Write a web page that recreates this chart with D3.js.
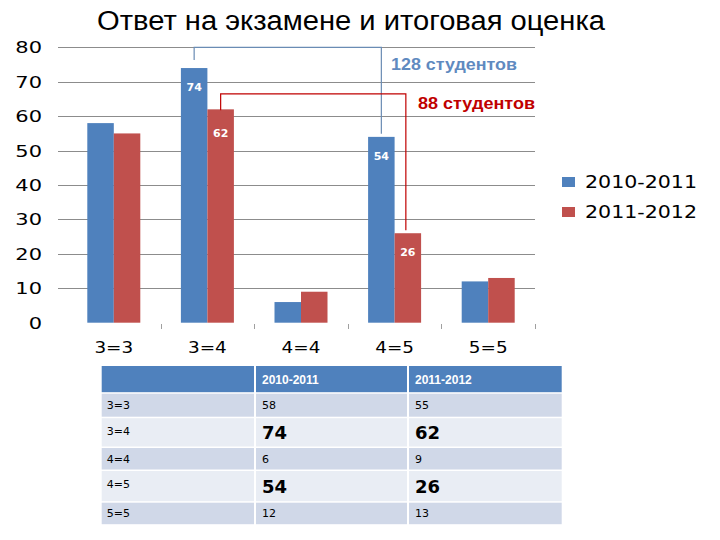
<!DOCTYPE html>
<html><head><meta charset="utf-8">
<script src="https://cdn.jsdelivr.net/npm/d3@7"></script>
<style>html,body{margin:0;padding:0;background:#fff;}svg{display:block;}</style>
</head><body>
<svg id="c" width="720" height="540"></svg>
<script>
const title = "Ответ на экзамене и итоговая оценка";
const categories = ["3=3", "3=4", "4=4", "4=5", "5=5"];
const seriesNames = ["2010-2011", "2011-2012"];
const values2010 = [58, 74, 6, 54, 12];
const values2011 = [55, 62, 9, 26, 13];
const yTicks = [0, 10, 20, 30, 40, 50, 60, 70, 80];
const labeledBars = [{s: 0, c: "3=4"}, {s: 1, c: "3=4"}, {s: 0, c: "4=5"}, {s: 1, c: "4=5"}];
const annotations = [
  {text: "128 студентов", s: 0, from: "3=4", to: "4=5", level: 80},
  {text: "88 студентов", s: 1, from: "3=4", to: "4=5", level: 66.5}
];
const boldRows = ["3=4", "4=5"];

const seriesValues = [values2010, values2011];
const colors = ["#4F81BD", "#C0504D"];
const annColors = ["#5F8AC0", "#C00000"];
const annLineColors = ["#6A8CB4", "#C00000"];

const svg = d3.select("#c");

// Title
svg.append("text").attr("x", 351).attr("y", 30).attr("text-anchor", "middle")
  .attr("font-family", "Liberation Sans, Arial, sans-serif").attr("font-size", 27)
  .attr("textLength", 508).attr("lengthAdjust", "spacingAndGlyphs")
  .attr("fill", "#000").text(title);

const x0 = d3.scaleBand().domain(categories).range([67, 535]).padding(0);
const x1 = d3.scaleBand().domain([0, 1]).range([20.3, 73.3]);
const y = d3.scaleLinear().domain([0, 80]).range([322.7, 47.4]);

// gridlines
svg.append("g").selectAll("line").data(yTicks.filter(t => t > 0)).join("line")
  .attr("x1", 58).attr("x2", 535).attr("y1", d => Math.round(y(d)) + 0.5).attr("y2", d => Math.round(y(d)) + 0.5)
  .attr("stroke", "#8C8C8C").attr("stroke-width", 1);

// y tick labels
svg.append("g").selectAll("text").data(yTicks).join("text")
  .attr("transform", d => `translate(42,${y(d) + 6}) scale(1.4,1)`)
  .attr("text-anchor", "end").attr("font-family", "DejaVu Sans, sans-serif").attr("font-size", 15)
  .attr("fill", "#000").text(d => d);

// category tick marks (between categories)
svg.append("g").selectAll("line").data(categories).join("line")
  .attr("x1", d => Math.round(x0(d) + x0.bandwidth()) + 0.5)
  .attr("x2", d => Math.round(x0(d) + x0.bandwidth()) + 0.5)
  .attr("y1", 324).attr("y2", 329).attr("stroke", "#A0A0A0");

// bars
const groups = svg.append("g").selectAll("g").data(categories).join("g")
  .attr("transform", d => `translate(${x0(d)},0)`);
groups.selectAll("rect").data((c, ci) => seriesValues.map((v, s) => ({s, v: v[ci], c}))).join("rect")
  .attr("x", d => x1(d.s)).attr("width", x1.bandwidth())
  .attr("y", d => y(d.v)).attr("height", d => y(0) - y(d.v))
  .attr("fill", d => colors[d.s]);

// data labels
svg.append("g").selectAll("text").data(labeledBars).join("text")
  .attr("x", d => x0(d.c) + x1(d.s) + x1.bandwidth() / 2)
  .attr("y", d => y(seriesValues[d.s][categories.indexOf(d.c)]) + (d.s === 1 && d.c === "3=4" ? 28 : 23))
  .attr("text-anchor", "middle").attr("font-family", "DejaVu Sans, sans-serif")
  .attr("font-weight", "bold").attr("font-size", 11).attr("fill", "#fff")
  .text(d => seriesValues[d.s][categories.indexOf(d.c)]);

// annotation brackets
annotations.forEach(a => {
  const xa = x0(a.from) + x1(a.s) + x1.bandwidth() / 2;
  const xb = x0(a.to) + x1(a.s) + x1.bandwidth() / 2 - (a.s === 1 ? 2 : 0);
  const va = seriesValues[a.s][categories.indexOf(a.from)];
  const vb = seriesValues[a.s][categories.indexOf(a.to)];
  const ly = y(a.level);
  const path = d3.path();
  path.moveTo(xa, y(va) - (a.s === 0 ? 8 : -1));
  path.lineTo(xa, ly);
  path.lineTo(xb, ly);
  path.lineTo(xb, y(vb) - 3);
  svg.append("path").attr("d", path.toString()).attr("fill", "none")
    .attr("stroke", annLineColors[a.s]).attr("stroke-width", 1.2);
});
svg.append("text").attr("x", 391).attr("y", 70)
  .attr("font-family", "Liberation Sans, Arial, sans-serif").attr("font-weight", "bold").attr("font-size", 17)
  .attr("textLength", 126).attr("lengthAdjust", "spacingAndGlyphs")
  .attr("fill", annColors[0]).text(annotations[0].text);
svg.append("text").attr("x", 418).attr("y", 109)
  .attr("font-family", "Liberation Sans, Arial, sans-serif").attr("font-weight", "bold").attr("font-size", 17)
  .attr("textLength", 117).attr("lengthAdjust", "spacingAndGlyphs")
  .attr("fill", annColors[1]).text(annotations[1].text);

// category labels
svg.append("g").selectAll("text").data(categories).join("text")
  .attr("transform", d => `translate(${x0(d) + x0.bandwidth() / 2},${353}) scale(1.15,1)`)
  .attr("text-anchor", "middle").attr("font-family", "DejaVu Sans, sans-serif").attr("font-size", 16)
  .attr("fill", "#000").text(d => d);

// legend
const lg = svg.append("g").selectAll("g").data(seriesNames).join("g")
  .attr("transform", (d, i) => `translate(562,${177 + i * 30})`);
lg.append("rect").attr("width", 13).attr("height", 10).attr("fill", (d, i) => colors[i]);
lg.append("text").attr("x", 23).attr("y", 11).attr("font-family", "DejaVu Sans, sans-serif")
  .attr("font-size", 17).attr("textLength", 112).attr("lengthAdjust", "spacingAndGlyphs")
  .attr("fill", "#000").text(d => d);

// table
const colX = [101.7, 255, 408, 561.7];
const rowY = [366, 393.7, 418.2, 448, 471, 502.7, 525.7];
const tbl = svg.append("g");
const rowsData = [{label: "", vals: seriesNames, header: true}].concat(
  categories.map((c, i) => ({label: c, vals: [values2010[i], values2011[i]], header: false, bold: boldRows.includes(c), idx: i})));
rowsData.forEach((r, ri) => {
  const y0 = rowY[ri], y1 = rowY[ri + 1] - 1.5;
  const fill = r.header ? "#4F81BD" : (r.idx % 2 === 0 ? "#D0D8E8" : "#E9EDF4");
  for (let c = 0; c < 3; c++) {
    const xa = colX[c] + (c > 0 ? 1 : 0), xb = colX[c + 1] - (c < 2 ? 1 : 0);
    tbl.append("rect").attr("x", xa).attr("y", y0).attr("width", xb - xa).attr("height", y1 - y0).attr("fill", fill);
  }
  const mid = (y0 + y1) / 2;
  if (r.header) {
    r.vals.forEach((v, k) => tbl.append("text").attr("x", colX[k + 1] + 7).attr("y", mid + 4.5)
      .attr("font-family", "Liberation Sans, Arial, sans-serif").attr("font-weight", "bold").attr("font-size", 12)
      .attr("fill", "#fff").text(v));
  } else {
    tbl.append("text").attr("x", colX[0] + 5).attr("y", r.bold ? y0 + 17 : mid + 4)
      .attr("font-family", "DejaVu Sans, sans-serif").attr("font-size", 11).attr("fill", "#000").text(r.label);
    r.vals.forEach((v, k) => tbl.append("text").attr("x", colX[k + 1] + 7).attr("y", r.bold ? mid + 7 : mid + 4)
      .attr("font-family", "DejaVu Sans, sans-serif").attr("font-weight", r.bold ? "bold" : "normal")
      .attr("font-size", r.bold ? 18 : 11).attr("fill", "#000").text(v));
  }
});
</script>
</body></html>
